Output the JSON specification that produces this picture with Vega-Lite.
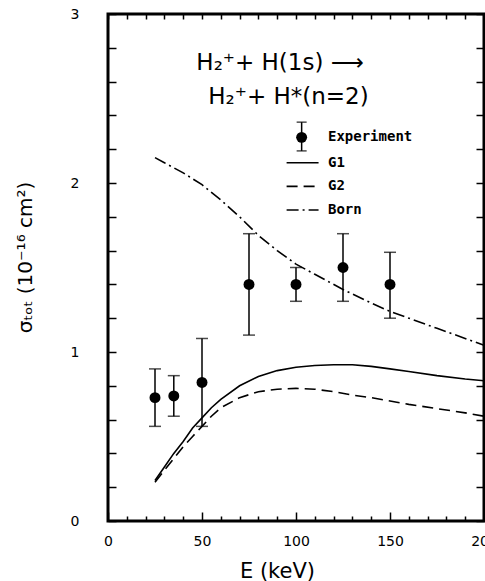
{
  "$schema": "https://vega.github.io/schema/vega-lite/v6.json",
  "width": 376,
  "height": 507,
  "autosize": "none",
  "padding": {"left": 108, "top": 14, "right": 1, "bottom": 60},
  "config": {
    "view": {"stroke": "black", "strokeWidth": 3},
    "font": "DejaVu Sans",
    "axis": {"domain": false, "grid": false, "tickColor": "black", "tickWidth": 1.5, "labelColor": "black", "titleColor": "black", "labelFont": "DejaVu Sans", "titleFont": "DejaVu Sans", "labelFontSize": 14, "titleFontSize": 16, "titleFontWeight": "normal", "labelOverlap": false}
  },
  "datasets": {
    "curves": [
      {"model": "G1", "E": 25, "s": 0.24}, {"model": "G1", "E": 30, "s": 0.32}, {"model": "G1", "E": 35, "s": 0.4}, {"model": "G1", "E": 40, "s": 0.47}, {"model": "G1", "E": 45, "s": 0.55}, {"model": "G1", "E": 50, "s": 0.61}, {"model": "G1", "E": 55, "s": 0.67}, {"model": "G1", "E": 60, "s": 0.72}, {"model": "G1", "E": 70, "s": 0.8}, {"model": "G1", "E": 80, "s": 0.855}, {"model": "G1", "E": 90, "s": 0.89}, {"model": "G1", "E": 100, "s": 0.91}, {"model": "G1", "E": 110, "s": 0.92}, {"model": "G1", "E": 120, "s": 0.925}, {"model": "G1", "E": 130, "s": 0.925}, {"model": "G1", "E": 140, "s": 0.915}, {"model": "G1", "E": 150, "s": 0.9}, {"model": "G1", "E": 160, "s": 0.885}, {"model": "G1", "E": 175, "s": 0.86}, {"model": "G1", "E": 190, "s": 0.84}, {"model": "G1", "E": 200, "s": 0.83},
      {"model": "G2", "E": 25, "s": 0.23}, {"model": "G2", "E": 30, "s": 0.3}, {"model": "G2", "E": 35, "s": 0.37}, {"model": "G2", "E": 40, "s": 0.44}, {"model": "G2", "E": 45, "s": 0.5}, {"model": "G2", "E": 50, "s": 0.56}, {"model": "G2", "E": 55, "s": 0.62}, {"model": "G2", "E": 60, "s": 0.67}, {"model": "G2", "E": 70, "s": 0.73}, {"model": "G2", "E": 80, "s": 0.765}, {"model": "G2", "E": 90, "s": 0.78}, {"model": "G2", "E": 100, "s": 0.785}, {"model": "G2", "E": 110, "s": 0.78}, {"model": "G2", "E": 120, "s": 0.765}, {"model": "G2", "E": 130, "s": 0.745}, {"model": "G2", "E": 140, "s": 0.73}, {"model": "G2", "E": 150, "s": 0.71}, {"model": "G2", "E": 160, "s": 0.69}, {"model": "G2", "E": 175, "s": 0.665}, {"model": "G2", "E": 190, "s": 0.64}, {"model": "G2", "E": 200, "s": 0.62},
      {"model": "Born", "E": 25, "s": 2.15}, {"model": "Born", "E": 30, "s": 2.12}, {"model": "Born", "E": 40, "s": 2.06}, {"model": "Born", "E": 50, "s": 1.99}, {"model": "Born", "E": 60, "s": 1.9}, {"model": "Born", "E": 70, "s": 1.8}, {"model": "Born", "E": 80, "s": 1.69}, {"model": "Born", "E": 90, "s": 1.6}, {"model": "Born", "E": 100, "s": 1.52}, {"model": "Born", "E": 110, "s": 1.46}, {"model": "Born", "E": 125, "s": 1.37}, {"model": "Born", "E": 140, "s": 1.29}, {"model": "Born", "E": 150, "s": 1.24}, {"model": "Born", "E": 175, "s": 1.14}, {"model": "Born", "E": 200, "s": 1.04}
    ],
    "points": [
      {"E": 25, "s": 0.73, "lo": 0.56, "hi": 0.9},
      {"E": 35, "s": 0.74, "lo": 0.62, "hi": 0.86},
      {"E": 50, "s": 0.82, "lo": 0.56, "hi": 1.08},
      {"E": 75, "s": 1.4, "lo": 1.1, "hi": 1.7},
      {"E": 100, "s": 1.4, "lo": 1.3, "hi": 1.5},
      {"E": 125, "s": 1.5, "lo": 1.3, "hi": 1.7},
      {"E": 150, "s": 1.4, "lo": 1.2, "hi": 1.59}
    ],
    "legendPoint": [{"E": 103, "s": 2.27, "lo": 2.19, "hi": 2.36}],
    "legendLines": [
      {"model": "G1", "E": 95, "s": 2.12}, {"model": "G1", "E": 112, "s": 2.12},
      {"model": "G2", "E": 95, "s": 1.98}, {"model": "G2", "E": 112, "s": 1.98},
      {"model": "Born", "E": 95, "s": 1.84}, {"model": "Born", "E": 112, "s": 1.84}
    ],
    "legendText": [
      {"E": 117, "s": 2.27, "text": "Experiment"},
      {"E": 117, "s": 2.12, "text": "G1"},
      {"E": 117, "s": 1.98, "text": "G2"},
      {"E": 117, "s": 1.84, "text": "Born"}
    ],
    "titleText": [
      {"E": 91.5, "s": 2.71, "text": "H₂⁺+ H(1s) ⟶"},
      {"E": 96, "s": 2.51, "text": "H₂⁺+ H*(n=2)"}
    ]
  },
  "layer": [
    {
      "data": {"name": "curves"},
      "transform": [{"filter": "datum.model === 'G1'"}],
      "mark": {"type": "line", "color": "black", "strokeWidth": 1.6},
      "encoding": {
        "x": {"field": "E", "type": "quantitative", "scale": {"domain": [0, 200], "nice": false}, "title": "E  (keV)",
          "axis": {"orient": "bottom", "values": [0,10,20,30,40,50,60,70,80,90,100,110,120,130,140,150,160,170,180,190,200],
            "tickSize": {"condition": {"test": "datum.value % 50 === 0", "value": -9}, "value": -5},
            "labelExpr": "datum.value % 50 === 0 ? datum.label : ''", "labelPadding": 22, "labelFlush": false,
            "titleX": 169, "titleY": 50, "titleBaseline": "middle", "titleAnchor": null, "titleFontSize": 21}},
        "y": {"field": "s", "type": "quantitative", "scale": {"domain": [0, 3], "nice": false},
          "title": "σₜₒₜ  (10⁻¹⁶ cm²)",
          "axis": {"orient": "left", "values": [0,0.2,0.4,0.6,0.8,1,1.2,1.4,1.6,1.8,2,2.2,2.4,2.6,2.8,3],
            "tickSize": -8, "labelExpr": "datum.value % 1 === 0 ? toString(datum.value) : ''", "labelPadding": 37, "labelFlush": false,
            "titleX": -83, "titleY": 243, "titleBaseline": "middle", "titleAnchor": null, "titleFontSize": 20}}
      }
    },
    {
      "data": {"name": "curves"},
      "transform": [{"filter": "datum.model === 'G2'"}],
      "mark": {"type": "line", "color": "black", "strokeWidth": 1.6, "strokeDash": [11, 6]},
      "encoding": {
        "x": {"field": "E", "type": "quantitative", "scale": {"domain": [0, 200], "nice": false},
          "axis": {"orient": "top", "values": [0,10,20,30,40,50,60,70,80,90,100,110,120,130,140,150,160,170,180,190,200], "tickSize": -5, "labels": false, "title": null}},
        "y": {"field": "s", "type": "quantitative", "scale": {"domain": [0, 3], "nice": false},
          "axis": {"orient": "right", "values": [0,0.2,0.4,0.6,0.8,1,1.2,1.4,1.6,1.8,2,2.2,2.4,2.6,2.8,3], "tickSize": -8, "labels": false, "title": null}}
      }
    },
    {
      "data": {"name": "curves"},
      "transform": [{"filter": "datum.model === 'Born'"}],
      "mark": {"type": "line", "color": "black", "strokeWidth": 1.6, "strokeDash": [12, 4, 2, 4]},
      "encoding": {
        "x": {"field": "E", "type": "quantitative", "scale": {"domain": [0, 200]}, "axis": null},
        "y": {"field": "s", "type": "quantitative", "scale": {"domain": [0, 3]}, "axis": null}
      }
    },
    {
      "data": {"name": "points"},
      "mark": {"type": "rule", "color": "black", "strokeWidth": 1.5},
      "encoding": {
        "x": {"field": "E", "type": "quantitative", "axis": null},
        "y": {"field": "lo", "type": "quantitative", "axis": null},
        "y2": {"field": "hi"}
      }
    },
    {
      "data": {"name": "points"},
      "mark": {"type": "tick", "color": "black", "orient": "horizontal", "size": 12, "thickness": 1.5},
      "encoding": {
        "x": {"field": "E", "type": "quantitative", "axis": null},
        "y": {"field": "lo", "type": "quantitative", "axis": null}
      }
    },
    {
      "data": {"name": "points"},
      "mark": {"type": "tick", "color": "black", "orient": "horizontal", "size": 12, "thickness": 1.5},
      "encoding": {
        "x": {"field": "E", "type": "quantitative", "axis": null},
        "y": {"field": "hi", "type": "quantitative", "axis": null}
      }
    },
    {
      "data": {"name": "points"},
      "mark": {"type": "point", "shape": "circle", "filled": true, "color": "black", "opacity": 1, "size": 120},
      "encoding": {
        "x": {"field": "E", "type": "quantitative", "axis": null},
        "y": {"field": "s", "type": "quantitative", "axis": null}
      }
    },
    {
      "data": {"name": "legendPoint"},
      "mark": {"type": "rule", "color": "black", "strokeWidth": 1.5},
      "encoding": {
        "x": {"field": "E", "type": "quantitative", "axis": null},
        "y": {"field": "lo", "type": "quantitative", "axis": null},
        "y2": {"field": "hi"}
      }
    },
    {
      "data": {"name": "legendPoint"},
      "mark": {"type": "tick", "color": "black", "orient": "horizontal", "size": 10, "thickness": 1.5},
      "encoding": {
        "x": {"field": "E", "type": "quantitative", "axis": null},
        "y": {"field": "lo", "type": "quantitative", "axis": null}
      }
    },
    {
      "data": {"name": "legendPoint"},
      "mark": {"type": "tick", "color": "black", "orient": "horizontal", "size": 10, "thickness": 1.5},
      "encoding": {
        "x": {"field": "E", "type": "quantitative", "axis": null},
        "y": {"field": "hi", "type": "quantitative", "axis": null}
      }
    },
    {
      "data": {"name": "legendPoint"},
      "mark": {"type": "point", "shape": "circle", "filled": true, "color": "black", "opacity": 1, "size": 120},
      "encoding": {
        "x": {"field": "E", "type": "quantitative", "axis": null},
        "y": {"field": "s", "type": "quantitative", "axis": null}
      }
    },
    {
      "data": {"name": "legendLines"},
      "transform": [{"filter": "datum.model === 'G1'"}],
      "mark": {"type": "line", "color": "black", "strokeWidth": 1.6},
      "encoding": {
        "x": {"field": "E", "type": "quantitative", "axis": null},
        "y": {"field": "s", "type": "quantitative", "axis": null}
      }
    },
    {
      "data": {"name": "legendLines"},
      "transform": [{"filter": "datum.model === 'G2'"}],
      "mark": {"type": "line", "color": "black", "strokeWidth": 1.6, "strokeDash": [11, 6]},
      "encoding": {
        "x": {"field": "E", "type": "quantitative", "axis": null},
        "y": {"field": "s", "type": "quantitative", "axis": null}
      }
    },
    {
      "data": {"name": "legendLines"},
      "transform": [{"filter": "datum.model === 'Born'"}],
      "mark": {"type": "line", "color": "black", "strokeWidth": 1.6, "strokeDash": [12, 4, 2, 4]},
      "encoding": {
        "x": {"field": "E", "type": "quantitative", "axis": null},
        "y": {"field": "s", "type": "quantitative", "axis": null}
      }
    },
    {
      "data": {"name": "legendText"},
      "mark": {"type": "text", "align": "left", "baseline": "middle", "font": "DejaVu Sans Mono", "fontWeight": "bold", "fontSize": 14, "color": "black"},
      "encoding": {
        "x": {"field": "E", "type": "quantitative", "axis": null},
        "y": {"field": "s", "type": "quantitative", "axis": null},
        "text": {"field": "text"}
      }
    },
    {
      "data": {"name": "titleText"},
      "mark": {"type": "text", "align": "center", "baseline": "middle", "font": "DejaVu Sans", "fontSize": 23, "color": "black"},
      "encoding": {
        "x": {"field": "E", "type": "quantitative", "axis": null},
        "y": {"field": "s", "type": "quantitative", "axis": null},
        "text": {"field": "text"}
      }
    }
  ],
  "resolve": {"axis": {"x": "independent", "y": "independent"}}
}
